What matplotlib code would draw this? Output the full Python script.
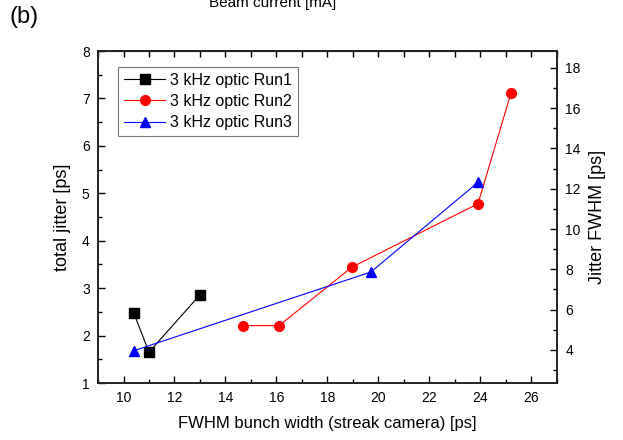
import matplotlib
matplotlib.use('Agg')
import matplotlib.pyplot as plt
from matplotlib.ticker import MultipleLocator

plt.rcParams['font.family'] = ['Liberation Sans', 'DejaVu Sans']

# data
run1_x = [10.4, 11.0, 13.0]
run1_y = [2.48, 1.65, 2.86]
run2_x = [14.7, 16.1, 18.95, 23.9, 25.2]
run2_y = [2.21, 2.21, 3.44, 4.78, 7.12]
run3_x = [10.4, 19.7, 23.9]
run3_y = [1.68, 3.34, 5.23]

labels = ['3 kHz optic Run1', '3 kHz optic Run2', '3 kHz optic Run3']
fwhm_factor = 2.355

fig = plt.figure(figsize=(6.23, 4.40), dpi=100)
ax = fig.add_axes([98 / 623, 1 - 383 / 440, (557 - 98) / 623, (383 - 51) / 440])

ax.plot(run1_x, run1_y, color='black', lw=0.8, marker='s', ms=6.5, label=labels[0])
ax.plot(run2_x, run2_y, color='#ff0000', lw=0.8, marker='o', ms=7, label=labels[1])
ax.plot(run3_x, run3_y, color='#0000ff', lw=0.8, marker='^', ms=7.5, label=labels[2])

ax.set_xlim(9, 27)
ax.set_ylim(1, 8)
ax.xaxis.set_major_locator(MultipleLocator(2))
ax.xaxis.set_minor_locator(MultipleLocator(1))
ax.yaxis.set_major_locator(MultipleLocator(1))
ax.yaxis.set_minor_locator(MultipleLocator(0.5))
ax.tick_params(which='both', direction='in', labelsize=10, width=1, top=False, pad=6)
ax.tick_params(which='major', length=5)
ax.tick_params(which='minor', length=3)
for s in ax.spines.values():
    s.set_linewidth(1.2)
    s.set_color('#222222')

ax.set_xlabel('FWHM bunch width (streak camera) [ps]', fontsize=12, labelpad=8)
ax.set_ylabel('total jitter [ps]', fontsize=13, labelpad=8)

# top axis (beam current), ticks only
top = ax.secondary_xaxis('top')
top.xaxis.set_major_locator(MultipleLocator(1))
top.tick_params(direction='in', length=4, width=1, labeltop=False)

# right axis: jitter FWHM
ax2 = ax.twinx()
ax2.set_ylim(1 * fwhm_factor, 8 * fwhm_factor)
ax2.yaxis.set_major_locator(MultipleLocator(2))
ax2.yaxis.set_minor_locator(MultipleLocator(1))
ax2.tick_params(which='both', direction='in', labelsize=10, width=1, pad=6)
ax2.tick_params(which='major', length=5)
ax2.tick_params(which='minor', length=3)
ax2.set_ylabel('Jitter FWHM [ps]', fontsize=13, labelpad=6)
for s in ax2.spines.values():
    s.set_linewidth(1.2)
    s.set_color('#222222')

leg = ax.legend(loc='upper left', bbox_to_anchor=(0.044, 0.952), fontsize=11.5,
                frameon=True, fancybox=False, handlelength=2.6, handletextpad=0.3,
                borderpad=0.35, labelspacing=0.4, borderaxespad=0)
leg.get_frame().set_edgecolor('#555555')
leg.get_frame().set_linewidth(0.8)

fig.text(10 / 623, 1 - 23 / 440, '(b)', fontsize=17, va='baseline')
fig.text(273 / 623, 1 - 7 / 440, 'Beam current [mA]', fontsize=11,
         ha='center', va='baseline')

fig.savefig('out.png', dpi=100)
